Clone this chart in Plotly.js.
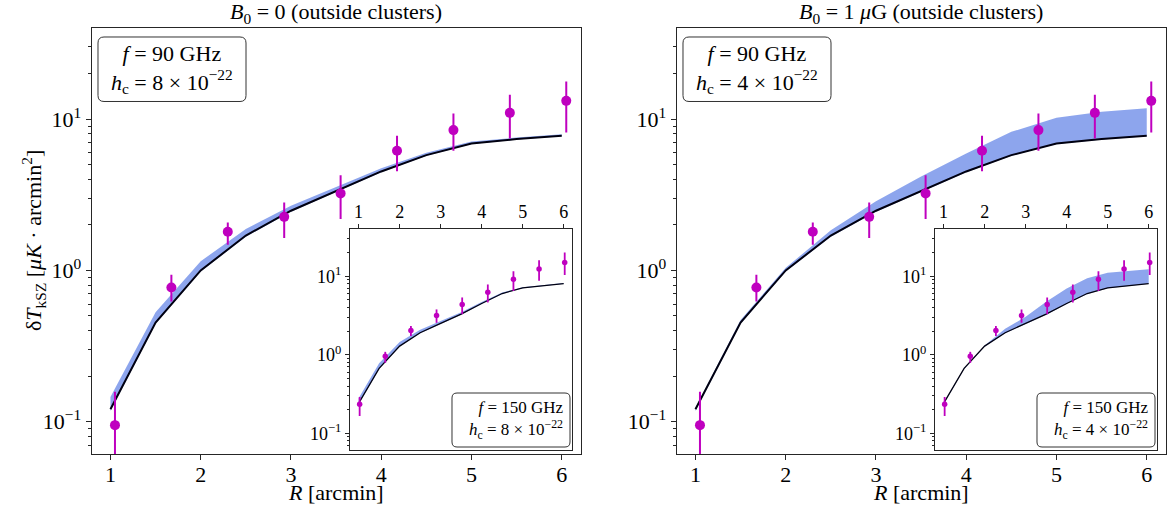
<!DOCTYPE html>
<html>
<head>
<meta charset="utf-8">
<script src="https://cdn.plot.ly/plotly-3.0.1.min.js"></script>
</head>
<body style="margin:0">
<div id="chart" style="width:1170px;height:506px"></div>
<div style="font-family:'Liberation Serif';font-size:22px;color:#fff">R arcmin 0123456789 GHz outside clusters <i>f h R B</i> &#956;&#948;&#215;&#8722;&#183;</div>
<script>
// ---------- data ----------
const R_model = [1, 1.5, 2, 2.5, 3, 3.5, 4, 4.5, 5, 5.5, 6];

// 90 GHz model line and bands
const line90      = [0.121, 0.453, 1.00, 1.70, 2.48, 3.33, 4.51, 5.78, 6.90, 7.38, 7.77];
const bandLo90    = [0.118, 0.445, 0.985, 1.67, 2.44, 3.28, 4.45, 5.72, 6.84, 7.32, 7.71];
const bandHi90_B0 = [0.146, 0.530, 1.15, 1.88, 2.68, 3.55, 4.74, 6.00, 7.10, 7.55, 7.95];
const bandHi90_B1 = [0.124, 0.470, 1.04, 1.84, 2.86, 4.18, 5.93, 8.24, 10.2, 11.2, 11.8];

// 150 GHz model line and bands (insets)
const line150      = [0.240, 0.670, 1.29, 1.91, 2.51, 3.29, 4.50, 6.03, 7.10, 7.62, 8.07];
const bandLo150    = [0.235, 0.660, 1.27, 1.88, 2.47, 3.24, 4.44, 5.95, 7.02, 7.55, 8.00];
const bandHi150_B0 = [0.280, 0.780, 1.45, 2.08, 2.70, 3.48, 4.70, 6.20, 7.25, 7.75, 8.20];
const bandHi150_B1 = [0.245, 0.680, 1.31, 2.15, 3.04, 4.73, 7.00, 9.40, 11.1, 11.7, 12.3];

// measured points, 90 GHz
const R_pts90  = [1.05, 1.675, 2.3, 2.925, 3.55, 4.175, 4.8, 5.425, 6.05];
const T_pts90  = [0.095, 0.772, 1.80, 2.26, 3.23, 6.18, 8.46, 11.0, 13.2];
const T_hi90   = [0.158, 0.937, 2.07, 2.81, 4.25, 7.77, 10.9, 14.5, 17.7];
const T_lo90   = [0.030, 0.624, 1.48, 1.64, 2.19, 4.52, 6.17, 7.45, 8.17];

// measured points, 150 GHz
const R_pts150 = [1.025, 1.65, 2.275, 2.9, 3.525, 4.15, 4.775, 5.4, 6.025];
const T_pts150 = [0.234, 0.96, 2.04, 3.17, 4.38, 6.27, 9.18, 12.4, 15.0];
const T_hi150  = [0.290, 1.09, 2.32, 3.78, 5.37, 7.86, 11.6, 16.0, 20.1];
const T_lo150  = [0.166, 0.79, 1.74, 2.55, 3.29, 4.64, 6.50, 8.74, 10.4];

const xTicks = [1, 2, 3, 4, 5, 6];
const yTickVals = [0.1, 1, 10];
const yTickText = ['10<sup>\u22121</sup>', '10<sup>0</sup>', '10<sup>1</sup>'];
const yMinor = [0.07, 0.08, 0.09, 0.2, 0.3, 0.4, 0.5, 0.6, 0.7, 0.8, 0.9, 2, 3, 4, 5, 6, 7, 8, 9, 20, 30];

const panelTitles = ['<i>B</i><sub>0</sub> = 0 (outside clusters)', '<i>B</i><sub>0</sub> = 1 <i>\u03bc</i>G (outside clusters)'];
const mainLabels  = ['<i>f</i> = 90 GHz<br><i>h</i><sub>c</sub> = 8 \u00d7 10<sup>\u221222</sup>',
                     '<i>f</i> = 90 GHz<br><i>h</i><sub>c</sub> = 4 \u00d7 10<sup>\u221222</sup>'];
const insetLabels = ['<i>f</i> = 150 GHz<br><i>h</i><sub>c</sub> = 8 \u00d7 10<sup>\u221222</sup>',
                     '<i>f</i> = 150 GHz<br><i>h</i><sub>c</sub> = 4 \u00d7 10<sup>\u221222</sup>'];

// ---------- styles ----------
const W = 1170, H = 506;
const SERIF = 'Liberation Serif';
const BAND = 'rgba(65,105,225,0.6)';
const MAG = '#bf00bf';
const AX = '#262626';

function diff(a, b) { return a.map((v, i) => v - b[i]); }

function panelTraces(xa, ya, R, lo, hi, line, rp, tp, thi, tlo, inset) {
  return [
    {x: R, y: lo, xaxis: xa, yaxis: ya, mode: 'lines', line: {width: 0, color: BAND}, hoverinfo: 'skip', showlegend: false},
    {x: R, y: hi, xaxis: xa, yaxis: ya, mode: 'lines', line: {width: 0, color: BAND}, fill: 'tonexty', fillcolor: BAND, showlegend: false},
    {x: R, y: line, xaxis: xa, yaxis: ya, mode: 'lines', line: {width: inset ? 1.3 : 2, color: '#000010'}, showlegend: false},
    {x: rp, y: tp, xaxis: xa, yaxis: ya, mode: 'markers', showlegend: false,
     marker: {color: MAG, size: inset ? 5.5 : 10},
     error_y: {type: 'data', symmetric: false, array: diff(thi, tp), arrayminus: diff(tp, tlo),
               color: MAG, thickness: inset ? 1.8 : 2, width: 0}}
  ];
}

const XR = [0.79, 6.21];
const YR = [-1.213, 1.602];

function px2x(p) { return p / W; }
function px2y(p) { return 1 - p / H; }

function xAxis(dom, anchor, inset) {
  return {domain: dom, anchor: anchor, range: XR, tickvals: xTicks, ticks: 'outside', ticklen: inset ? 4 : 5,
          tickwidth: 1, tickcolor: AX, showline: true, linecolor: AX, linewidth: 1, mirror: true,
          showgrid: false, zeroline: false, side: inset ? 'top' : 'bottom', ticklabelstandoff: inset ? -1 : -4,
          tickfont: {family: SERIF, size: inset ? 18 : 22, color: '#000'}};
}
function yAxis(dom, anchor, inset) {
  return {domain: dom, anchor: anchor, type: 'log', range: YR, tickvals: yTickVals, ticktext: yTickText,
          ticks: 'outside', ticklen: inset ? 4 : 5, tickwidth: 1, tickcolor: AX,
          minor: {tickvals: yMinor, ticks: 'outside', ticklen: inset ? 2 : 3, tickcolor: AX, tickwidth: 0.8},
          showline: true, linecolor: AX, linewidth: 1, mirror: true, showgrid: false, zeroline: false,
          tickfont: {family: SERIF, size: inset ? 18 : 22, color: '#000'}};
}

const mainYDom = [px2y(454), px2y(28)];
const insYDom = [px2y(450), px2y(229)];
const OFF = 585;

function rbox(x0, y0, x1, y1, r) {
  const X = p => (p / W).toFixed(5), Y = p => (1 - p / H).toFixed(5);
  return 'M' + X(x0 + r) + ',' + Y(y0) + ' L' + X(x1 - r) + ',' + Y(y0) +
    ' Q' + X(x1) + ',' + Y(y0) + ' ' + X(x1) + ',' + Y(y0 + r) +
    ' L' + X(x1) + ',' + Y(y1 - r) + ' Q' + X(x1) + ',' + Y(y1) + ' ' + X(x1 - r) + ',' + Y(y1) +
    ' L' + X(x0 + r) + ',' + Y(y1) + ' Q' + X(x0) + ',' + Y(y1) + ' ' + X(x0) + ',' + Y(y1 - r) +
    ' L' + X(x0) + ',' + Y(y0 + r) + ' Q' + X(x0) + ',' + Y(y0) + ' ' + X(x0 + r) + ',' + Y(y0) + ' Z';
}

function build() {
  const traces = [].concat(
    panelTraces('x', 'y', R_model, bandLo90, bandHi90_B0, line90, R_pts90, T_pts90, T_hi90, T_lo90, false),
    panelTraces('x2', 'y2', R_model, bandLo90, bandHi90_B1, line90, R_pts90, T_pts90, T_hi90, T_lo90, false),
    panelTraces('x3', 'y3', R_model, bandLo150, bandHi150_B0, line150, R_pts150, T_pts150, T_hi150, T_lo150, true),
    panelTraces('x4', 'y4', R_model, bandLo150, bandHi150_B1, line150, R_pts150, T_pts150, T_hi150, T_lo150, true)
  );
  const shapes = [];
  const annotations = [];
  [0, 1].forEach(k => {
    const o = k * OFF;
    shapes.push({type: 'path', xref: 'paper', yref: 'paper', path: rbox(98 + o, 37, 246 + o, 101.5, 6),
                 line: {color: '#333', width: 1}, fillcolor: 'rgba(255,255,255,0.85)', layer: 'above'});
    shapes.push({type: 'path', xref: 'paper', yref: 'paper', path: rbox(452 + o, 393, 570 + o, 447, 5),
                 line: {color: '#333', width: 1}, fillcolor: 'rgba(255,255,255,0.85)', layer: 'above'});
    annotations.push({xref: 'paper', yref: 'paper', x: px2x(172 + o), y: px2y(69), text: mainLabels[k],
                      showarrow: false, xanchor: 'center', yanchor: 'middle', align: 'center',
                      font: {family: SERIF, size: 22, color: '#000'}});
    annotations.push({xref: 'paper', yref: 'paper', x: px2x(566 + o), y: px2y(420), text: insetLabels[k],
                      showarrow: false, xanchor: 'right', yanchor: 'middle', align: 'right',
                      font: {family: SERIF, size: 17, color: '#000'}});
    annotations.push({xref: 'paper', yref: 'paper', x: px2x(336 + o), y: px2y(13), text: panelTitles[k],
                      showarrow: false, xanchor: 'center', yanchor: 'middle',
                      font: {family: SERIF, size: 22, color: '#000'}});
    annotations.push({xref: 'paper', yref: 'paper', x: px2x(336 + o), y: px2y(492), text: '<i>R</i> [arcmin]',
                      showarrow: false, xanchor: 'center', yanchor: 'middle',
                      font: {family: SERIF, size: 22, color: '#000'}});
  });
  annotations.push({xref: 'paper', yref: 'paper', x: px2x(33), y: px2y(241),
                    text: '\u03b4<i>T</i><sub>kSZ</sub> [<i>\u03bcK</i> \u00b7 arcmin<sup>2</sup>]',
                    showarrow: false, textangle: -90, xanchor: 'center', yanchor: 'middle',
                    font: {family: SERIF, size: 22, color: '#000'}});

  const layout = {
    width: W, height: H, margin: {l: 0, r: 0, t: 0, b: 0},
    font: {family: SERIF, color: '#000'},
    paper_bgcolor: '#fff', plot_bgcolor: 'rgba(0,0,0,0)', showlegend: false,
    xaxis: xAxis([px2x(91.5), px2x(580.7)], 'y', false),
    yaxis: yAxis(mainYDom, 'x', false),
    xaxis2: xAxis([px2x(91.5 + OFF), px2x(580.7 + OFF)], 'y2', false),
    yaxis2: yAxis(mainYDom, 'x2', false),
    xaxis3: xAxis([px2x(350), px2x(572.3)], 'y3', true),
    yaxis3: yAxis(insYDom, 'x3', true),
    xaxis4: xAxis([px2x(350 + OFF), px2x(572.3 + OFF)], 'y4', true),
    yaxis4: yAxis(insYDom, 'x4', true),
    shapes: shapes,
    annotations: annotations
  };
  return {traces: traces, layout: layout};
}

let fig = build();
Plotly.newPlot('chart', fig.traces, fig.layout, {displayModeBar: false});
if (document.fonts && document.fonts.ready) {
  document.fonts.ready.then(function () {
    try {
      Plotly.purge('chart');
      fig = build();
      Plotly.newPlot('chart', fig.traces, fig.layout, {displayModeBar: false});
    } catch (e) {}
  });
}
</script>
</body>
</html>
